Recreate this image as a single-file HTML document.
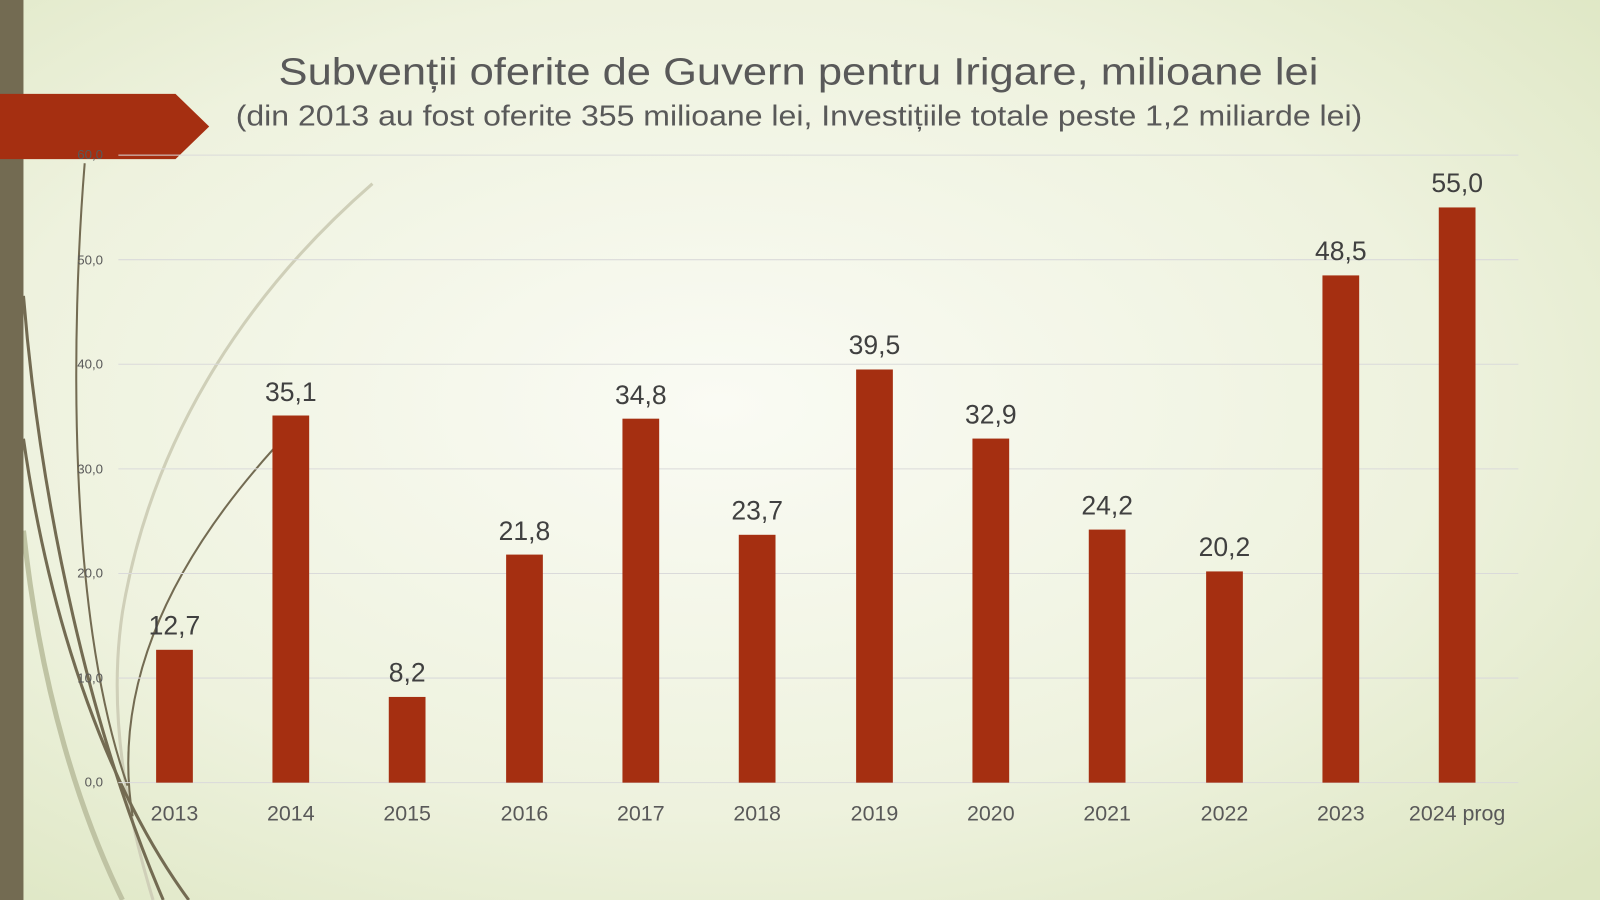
<!DOCTYPE html>
<html><head><meta charset="utf-8"><style>
html,body{margin:0;padding:0;width:1600px;height:900px;overflow:hidden}
svg{display:block}
text{font-family:"Liberation Sans",sans-serif}
</style></head><body>
<svg width="1600" height="900" viewBox="0 0 1568 882" preserveAspectRatio="none">
<defs>
<radialGradient id="bg" cx="0.45" cy="0.45" r="0.75">
<stop offset="0" stop-color="#FAFBF4"/>
<stop offset="0.6" stop-color="#EEF2DE"/>
<stop offset="1" stop-color="#DDE6C2"/>
</radialGradient>
</defs>
<rect width="1568" height="882" fill="url(#bg)"/>
<path d="M365,180 C250,280 150,420 120,600 C105,700 125,800 150,882" fill="none" stroke="#CFCFB8" stroke-width="3"/>
<path d="M83,160 C70,320 65,600 125,770" fill="none" stroke="#736B52" stroke-width="2"/>
<path d="M268,440 C160,560 110,680 130,800" fill="none" stroke="#736B52" stroke-width="2"/>
<path d="M23,290 C40,500 90,720 160,882" fill="none" stroke="#736B52" stroke-width="3"/>
<path d="M23,430 C50,620 110,780 185,882" fill="none" stroke="#736B52" stroke-width="3"/>
<path d="M23,520 C40,680 80,800 120,882" fill="none" stroke="#BFC3A3" stroke-width="5"/>
<rect x="0" y="0" width="23" height="882" fill="#736B52"/>
<polygon points="0,92 172,92 205,124 172,156 0,156" fill="#A52F11"/>
<text x="273" y="83" font-size="37" fill="#595959" textLength="1019" lengthAdjust="spacingAndGlyphs">Subvenții oferite de Guvern pentru Irigare, milioane lei</text>
<text x="231" y="123" font-size="28" fill="#595959" textLength="1104" lengthAdjust="spacingAndGlyphs">(din 2013 au fost oferite 355 milioane lei, Investițiile totale peste 1,2 miliarde lei)</text>
<g stroke="#DADADA" stroke-width="1">
<line x1="116" x2="1488" y1="152" y2="152"/><line x1="116" x2="1488" y1="254.5" y2="254.5"/>
<line x1="116" x2="1488" y1="357" y2="357"/><line x1="116" x2="1488" y1="459.5" y2="459.5"/>
<line x1="116" x2="1488" y1="562" y2="562"/><line x1="116" x2="1488" y1="664.5" y2="664.5"/>
<line x1="116" x2="1488" y1="767" y2="767"/>
</g>
<g font-size="13" fill="#595959" text-anchor="end">
<text x="101" y="156">60,0</text><text x="101" y="259">50,0</text><text x="101" y="361">40,0</text>
<text x="101" y="464">30,0</text><text x="101" y="566">20,0</text><text x="101" y="669">10,0</text><text x="101" y="771">0,0</text>
</g>
<g fill="#A52F11">
<rect x="153" y="636.8" width="36" height="130.2"/>
<rect x="267" y="407.2" width="36" height="359.8"/>
<rect x="381" y="683" width="36" height="84"/>
<rect x="496" y="543.5" width="36" height="223.5"/>
<rect x="610" y="410.3" width="36" height="356.7"/>
<rect x="724" y="524.1" width="36" height="242.9"/>
<rect x="839" y="362.1" width="36" height="404.9"/>
<rect x="953" y="429.8" width="36" height="337.2"/>
<rect x="1067" y="519" width="36" height="248"/>
<rect x="1182" y="560" width="36" height="207"/>
<rect x="1296" y="269.9" width="36" height="497.1"/>
<rect x="1410" y="203.3" width="36" height="563.7"/>
</g>
<g font-size="26" fill="#404040" text-anchor="middle">
<text x="171" y="622">12,7</text><text x="285" y="393">35,1</text><text x="399" y="668">8,2</text>
<text x="514" y="529">21,8</text><text x="628" y="396">34,8</text><text x="742" y="509">23,7</text>
<text x="857" y="347">39,5</text><text x="971" y="415">32,9</text><text x="1085" y="504">24,2</text>
<text x="1200" y="545">20,2</text><text x="1314" y="255">48,5</text><text x="1428" y="188">55,0</text>
</g>
<g font-size="21" fill="#595959" text-anchor="middle">
<text x="171" y="804">2013</text><text x="285" y="804">2014</text><text x="399" y="804">2015</text>
<text x="514" y="804">2016</text><text x="628" y="804">2017</text><text x="742" y="804">2018</text>
<text x="857" y="804">2019</text><text x="971" y="804">2020</text><text x="1085" y="804">2021</text>
<text x="1200" y="804">2022</text><text x="1314" y="804">2023</text><text x="1428" y="804">2024 prog</text>
</g>
</svg>
</body></html>
